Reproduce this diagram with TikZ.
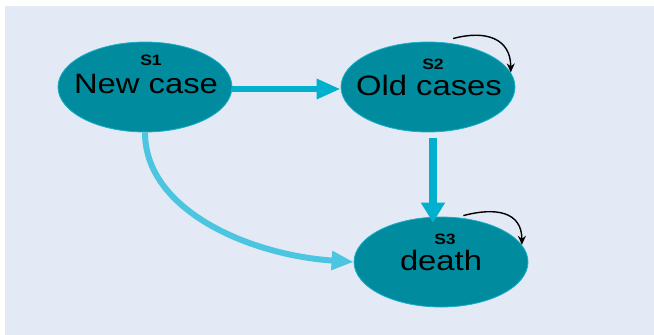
\documentclass[tikz,border=0pt]{standalone}
\usepackage{fontspec}
\setmainfont{Liberation Sans}
\usetikzlibrary{shapes.geometric, arrows.meta, positioning}
\definecolor{stfill}{HTML}{008C9E}
\definecolor{stline}{HTML}{1AAFC6}
\definecolor{flow}{HTML}{00B0CD}
\definecolor{flowlight}{HTML}{4CC5E0}
\definecolor{bg}{HTML}{E4EAF5}
\newcommand{\widetext}[1]{\scalebox{1.17}[1]{#1}}
\tikzset{
  state/.style={ellipse, draw=stline, line width=0.8pt, fill=stfill, minimum width=174pt, minimum height=90pt, inner sep=0pt},
  statetext/.style={font=\fontsize{28}{30}\selectfont, inner sep=0pt},
  tag/.style={font=\fontsize{15}{16}\selectfont\bfseries, inner sep=0pt},
  flowarrow/.style={draw=flow, line width=6pt, -{Triangle[length=24pt,width=19pt]}},
  selfloop/.style={black, line width=1.4pt, looseness=1.3, -{Stealth[length=9pt,width=8pt]}}
}

\begin{document}
\begin{tikzpicture}[x=1pt,y=-1pt]
        \useasboundingbox (0,0) rectangle (654,335);
        \fill[bg] (5,6) rectangle (654,335);

        \node[state] (s1) at (145,87) {};
        \node[state] (s2) at (428,87) {};
        \node[state] (s3) at (441,262) {};

        \node[statetext] (n1) at ([xshift=1pt,yshift=3pt]s1.center) {\widetext{New case}};
        \node[statetext] (n2) at ([xshift=1pt,yshift=2pt]s2.center) {\widetext{Old cases}};
        \node[statetext] (n3) at ([yshift=2pt]s3.center) {\widetext{death}};

        \node[tag] (t1) at ([xshift=6pt,yshift=27pt]s1.center) {\widetext{S1}};
        \node[tag] (t2) at ([xshift=5pt,yshift=23pt]s2.center) {\widetext{S2}};
        \node[tag] (t3) at ([xshift=4pt,yshift=23pt]s3.center) {\widetext{S3}};

        \draw[flowarrow] ([yshift=-2pt]s1.east) -- ([yshift=-2pt]s2.west);
        \draw[flowarrow, line width=8pt, -{Triangle[length=20pt,width=23pt]}]
            ([xshift=5pt,yshift=-6pt]s2.south) -- ([xshift=5pt,yshift=-6pt]s2.south |- s3.north);
        \draw[flowlight, line width=6pt, -{Triangle[length=22pt,width=18pt]}]
            (s1.south) .. controls +(0,78) and +(-104,-7) .. (s3.west);

        \draw[selfloop] ([yshift=5pt]s2.60) to[out=15,in=90] (s2.10);
        \draw[selfloop] ([yshift=2.5pt]s3.63) to[out=15,in=90] (s3.12);
\end{tikzpicture}
\end{document}
